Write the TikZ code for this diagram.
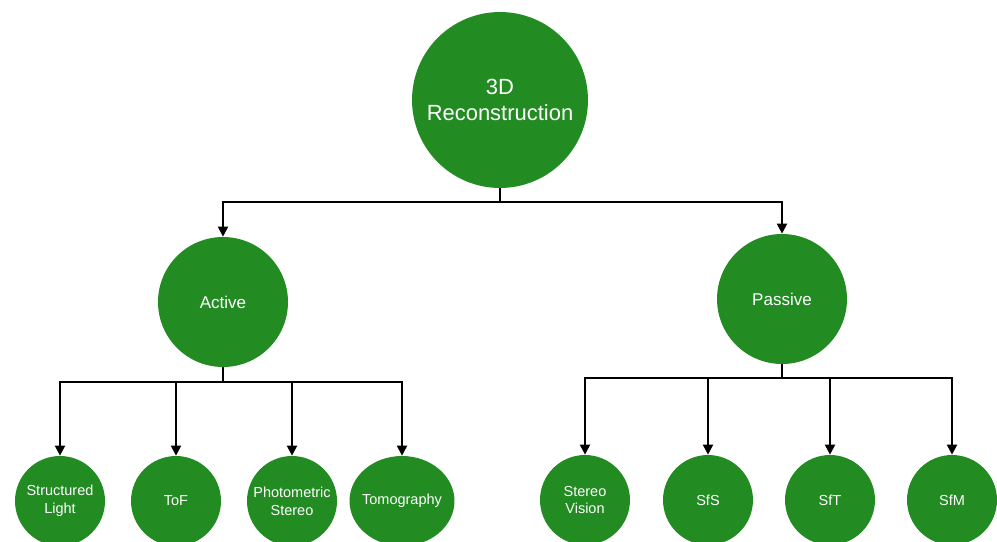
\documentclass[tikz,border=0pt]{standalone}
\usepackage{fontspec}
\setmainfont{Liberation Sans}
\usetikzlibrary{arrows.meta, shapes.geometric}
\definecolor{leafgreen}{RGB}{34, 139, 34}

\tikzset{
  blob/.style={circle, fill=leafgreen, text=white, align=center, inner sep=0pt},
  link/.style={black, line width=0.04cm, -{Triangle[length=0.2cm, width=0.2cm]}}
}

\begin{document}
\begin{tikzpicture}[x=0.02cm, y=-0.02cm]

  \useasboundingbox (0, 0) rectangle (997, 541);
  \clip (0, 0) rectangle (997, 541);

  % top level
  \node[blob, minimum size=3.52cm, font=\fontsize{12.5}{14.3}\selectfont]
    (root) at (500, 100) {3D\\Reconstruction};

  \node[blob, minimum size=2.6cm, font=\fontsize{9.7}{11.5}\selectfont]
    (act) at (223, 302) {Active};
  \node[blob, minimum size=2.6cm, font=\fontsize{9.7}{11.5}\selectfont]
    (pas) at (782, 299) {Passive};

  \coordinate (rootbus) at (500, 202);
  \draw[link] (root.south) -- (rootbus) -| (act.north);
  \draw[link] (root.south) -- (rootbus) -| (pas.north);

  % active methods
  \coordinate (actbus) at (223, 382);
  \foreach \x/\nm/\txt in {60/sl/{Structured\\Light}, 176/tof/{ToF},
                           292/ps/{Photometric\\Stereo}} {
    \node[blob, minimum size=1.8cm, font=\fontsize{8.25}{10.2}\selectfont]
      (\nm) at (\x, 501) {\txt};
    \draw[link] (act.south) -- (actbus) -| (\nm.north);
  }
  \node[blob, ellipse, minimum width=2.1cm, minimum height=1.8cm, inner xsep=-0.15cm,
        font=\fontsize{8.25}{10.2}\selectfont]
    (tomo) at (402, 501) {Tomography};
  \draw[link] (act.south) -- (actbus) -| (tomo.north);

  % passive methods
  \coordinate (pasbus) at (782, 378);
  \foreach \x/\nm/\txt in {585/sv/{Stereo\\Vision}, 708/sfs/{SfS},
                           830/sft/{SfT}, 952/sfm/{SfM}} {
    \node[blob, minimum size=1.8cm, font=\fontsize{8.25}{10.2}\selectfont]
      (\nm) at (\x, 500) {\txt};
    \draw[link] (pas.south) -- (pasbus) -| (\nm.north);
  }

\end{tikzpicture}
\end{document}
